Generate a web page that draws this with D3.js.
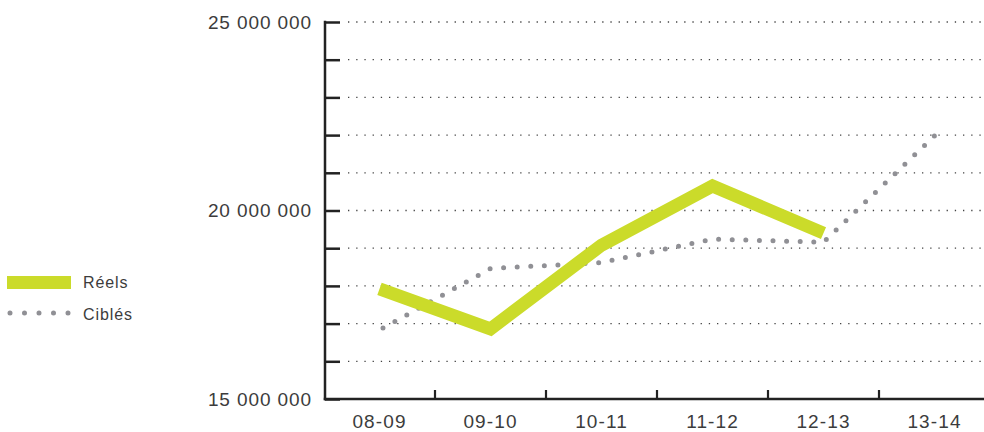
<!DOCTYPE html>
<html>
<head>
<meta charset="utf-8">
<script src="https://cdn.jsdelivr.net/npm/d3@7/dist/d3.min.js"></script>
<style>
  html, body { margin: 0; padding: 0; background: #fff; }
  svg { display: block; }
  text { font-family: "Liberation Sans", Arial, sans-serif; fill: #3c3c3c; }
</style>
</head>
<body>
<svg id="chart" width="984" height="432"></svg>
<script>
// Budget par exercice
const categories = ["08-09", "09-10", "10-11", "11-12", "12-13", "13-14"];
const reels   = [17.92e6, 16.86e6, 19.08e6, 20.65e6, 19.40e6, null];
const cibles  = [16.83e6, 18.46e6, 18.62e6, 19.24e6, 19.16e6, 21.98e6];
const yTicks  = d3.range(15e6, 25e6 + 1, 1e6);
const yLabels = [15e6, 20e6, 25e6];
const seriesNames = ["Réels", "Ciblés"];

const svg = d3.select("#chart");
const plotLeft = 325, plotRight = 984, plotTop = 22, plotBottom = 399;

const x = d3.scaleBand().domain(categories).range([324, 990]).padding(0);
const y = d3.scaleLinear().domain([15e6, 25e6]).range([plotBottom, plotTop]);
const cx = c => x(c) + x.bandwidth() / 2;

const fr = d3.formatLocale({ decimal: ",", thousands: " ", grouping: [3], currency: ["", " $"] });
const fmt = fr.format(",");

// Horizontal dotted guides
svg.append("g")
  .selectAll("line")
  .data(yTicks.filter(v => v > 15e6))
  .join("line")
  .attr("x1", 348).attr("x2", plotRight)
  .attr("y1", d => y(d)).attr("y2", d => y(d))
  .attr("stroke", "#444")
  .attr("stroke-width", 1.3)
  .attr("stroke-dasharray", "1.3 6.9");

// Y axis
const yAxis = d3.axisLeft(y)
  .tickValues(yTicks)
  .tickSize(-15)
  .tickPadding(13)
  .tickFormat(d => yLabels.includes(d) ? fmt(d) : "");
const gy = svg.append("g").attr("transform", `translate(${plotLeft},0)`).call(yAxis);
gy.select(".domain").remove();
gy.selectAll(".tick line").attr("stroke", "#222").attr("stroke-width", 2.5);
gy.selectAll("text").style("font-size", "19px").style("letter-spacing", "0.9px").attr("fill", "#3c3c3c");
svg.append("line")
  .attr("x1", plotLeft).attr("x2", plotLeft).attr("y1", plotTop - 1.25).attr("y2", plotBottom + 1.25)
  .attr("stroke", "#222").attr("stroke-width", 2.5);

// X axis
const xAxis = d3.axisBottom(x).tickSize(0).tickPadding(16);
const gx = svg.append("g").attr("transform", `translate(0,${plotBottom})`).call(xAxis);
gx.select(".domain").remove();
gx.selectAll("text").style("font-size", "19px").style("letter-spacing", "1.1px").attr("fill", "#3c3c3c");
svg.append("line")
  .attr("x1", plotLeft - 1.25).attr("x2", plotRight).attr("y1", plotBottom).attr("y2", plotBottom)
  .attr("stroke", "#222").attr("stroke-width", 2.5);
svg.append("g")
  .selectAll("line")
  .data(categories.slice(1))
  .join("line")
  .attr("x1", d => x(d)).attr("x2", d => x(d))
  .attr("y1", plotBottom).attr("y2", plotBottom - 9)
  .attr("stroke", "#222").attr("stroke-width", 2.2);

// Series
const line = d3.line()
  .defined(d => d.v != null)
  .x(d => cx(d.c))
  .y(d => y(d.v));

svg.append("path")
  .datum(categories.map((c, i) => ({ c, v: cibles[i] })))
  .attr("d", line)
  .attr("fill", "none")
  .attr("stroke", "#909095")
  .attr("stroke-width", 5)
  .attr("stroke-linecap", "round")
  .attr("stroke-dasharray", "0 13.6")
  .attr("stroke-dashoffset", -4);

svg.append("path")
  .datum(categories.map((c, i) => ({ c, v: reels[i] })))
  .attr("d", line)
  .attr("fill", "none")
  .attr("stroke", "#cbdb2a")
  .attr("stroke-width", 13)
  .attr("stroke-linejoin", "miter")
  .attr("stroke-linecap", "butt");

// Legend
const lg = svg.append("g");
lg.append("rect").attr("x", 7).attr("y", 276).attr("width", 64).attr("height", 13).attr("fill", "#cbdb2a");
lg.append("line")
  .attr("x1", 10).attr("x2", 70).attr("y1", 313).attr("y2", 313)
  .attr("stroke", "#909095").attr("stroke-width", 5)
  .attr("stroke-linecap", "round").attr("stroke-dasharray", "0 14.5");
lg.selectAll("text")
  .data(seriesNames)
  .join("text")
  .attr("x", 83)
  .attr("y", (d, i) => 288 + i * 32)
  .style("font-size", "16px")
  .style("letter-spacing", "0.9px")
  .text(d => d);
</script>
</body>
</html>
